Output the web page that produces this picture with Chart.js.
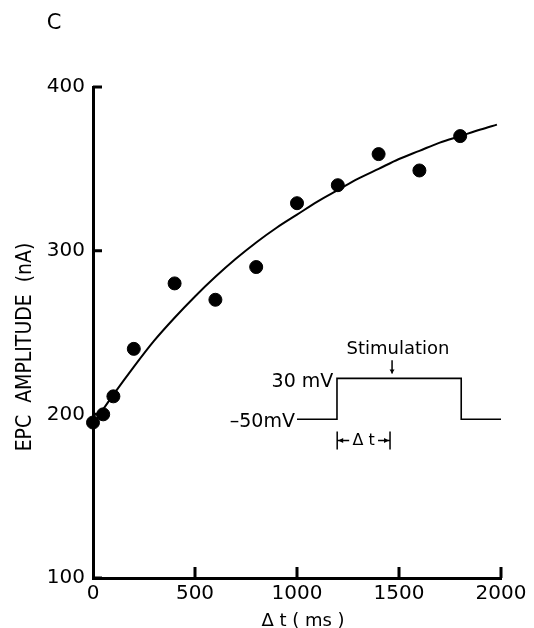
<!DOCTYPE html>
<html>
<head>
<meta charset="utf-8">
<script src="https://cdn.jsdelivr.net/npm/chart.js@4/dist/chart.umd.min.js"></script>
<style>
    body { margin: 0; background: #fff; }
</style>
</head>
<body>
<canvas id="epcChartCanvas" width="534" height="628"></canvas>
<script>
// measured points: delay between step and stimulation (ms) vs EPC amplitude (nA)
const delayMs = [0, 50, 100, 200, 400, 600, 800, 1000, 1200, 1400, 1600, 1800];
const epcAmplitude = [195, 200, 211, 240, 280, 270, 290, 329, 340, 359, 349, 370];

// smooth fitted curve
const fitX = [0, 100, 200, 300, 400, 500, 600, 700, 800, 900, 1000, 1100, 1200, 1300, 1400, 1500, 1600, 1700, 1800, 1900, 1980];
const fitY = [194, 212, 229, 245, 259, 272, 284, 295, 305, 314, 322, 330, 337, 344, 350, 356, 361, 366, 370, 374, 377];

// inset: voltage step protocol (drawn in plot units)
const pulseX = [1000, 1196, 1196, 1805, 1805, 2000];
const pulseY = [197, 197, 222, 222, 197, 197];

const xTicks = [0, 500, 1000, 1500, 2000];
const yTicks = [100, 200, 300, 400];

const FONT = '"DejaVu Sans", sans-serif';

function toPoints(xs, ys) {
    let pts = [];
    for (let i = 0; i < xs.length; i++) {
        pts.push({ x: xs[i], y: ys[i] });
    }
    return pts;
}

// inward tick marks, titles and the inset labels
const decorations = {
    id: 'decorations',
    afterDraw(chart) {
        const ctx = chart.ctx;
        const xs = chart.scales.x;
        const ys = chart.scales.y;
        const area = chart.chartArea;
        ctx.save();
        ctx.strokeStyle = '#000';
        ctx.fillStyle = '#000';

        // tick marks pointing into the plot
        ctx.lineWidth = 3;
        ctx.beginPath();
        yTicks.forEach(v => {
            const py = ys.getPixelForValue(v);
            ctx.moveTo(area.left, py);
            ctx.lineTo(area.left + 9, py);
        });
        xTicks.forEach(v => {
            if (v === 0) return;
            const px = xs.getPixelForValue(v);
            ctx.moveTo(px, area.bottom);
            ctx.lineTo(px, area.bottom - 11);
        });
        ctx.stroke();

        // panel letter
        ctx.textAlign = 'center';
        ctx.textBaseline = 'middle';
        ctx.font = '21px ' + FONT;
        ctx.fillText('C', 54, 24);

        // axis titles
        ctx.font = '18px ' + FONT;
        ctx.fillText('\u0394 t ( ms )', 303, 621);
        ctx.save();
        ctx.translate(26, 347);
        ctx.rotate(-Math.PI / 2);
        ctx.font = '21px "DejaVu Sans Condensed", ' + FONT;
        ctx.fillText('EPC  AMPLITUDE  (nA)', 0, 0);
        ctx.restore();

        // inset labels
        ctx.font = '18px ' + FONT;
        ctx.fillText('Stimulation', xs.getPixelForValue(1495), ys.getPixelForValue(239.5));
        ctx.textAlign = 'right';
        ctx.font = '19px ' + FONT;
        ctx.fillText('30 mV', xs.getPixelForValue(1178), ys.getPixelForValue(220));
        ctx.fillText('\u201350mV', xs.getPixelForValue(990), ys.getPixelForValue(195.5));

        // stimulation arrow
        ctx.lineWidth = 1.5;
        const ax = xs.getPixelForValue(1466);
        const ay1 = ys.getPixelForValue(233);
        const ay2 = ys.getPixelForValue(225);
        ctx.beginPath();
        ctx.moveTo(ax, ay1);
        ctx.lineTo(ax, ay2);
        ctx.stroke();
        ctx.beginPath();
        ctx.moveTo(ax - 2.5, ay2 - 4);
        ctx.lineTo(ax + 2.5, ay2 - 4);
        ctx.lineTo(ax, ay2);
        ctx.closePath();
        ctx.fill();

        // delta t bracket
        const bx1 = xs.getPixelForValue(1197);
        const bx2 = xs.getPixelForValue(1456);
        const by = ys.getPixelForValue(184);
        ctx.beginPath();
        ctx.moveTo(bx1, by - 9);
        ctx.lineTo(bx1, by + 9);
        ctx.moveTo(bx2, by - 9);
        ctx.lineTo(bx2, by + 9);
        ctx.moveTo(bx1, by);
        ctx.lineTo(bx1 + 12, by);
        ctx.moveTo(bx2 - 12, by);
        ctx.lineTo(bx2, by);
        ctx.stroke();
        ctx.beginPath();
        ctx.moveTo(bx1 + 1, by);
        ctx.lineTo(bx1 + 6, by - 2.5);
        ctx.lineTo(bx1 + 6, by + 2.5);
        ctx.closePath();
        ctx.moveTo(bx2 - 1, by);
        ctx.lineTo(bx2 - 6, by - 2.5);
        ctx.lineTo(bx2 - 6, by + 2.5);
        ctx.closePath();
        ctx.fill();
        ctx.textAlign = 'center';
        ctx.font = '16px ' + FONT;
        ctx.fillText('\u0394 t', (bx1 + bx2) / 2, by);

        ctx.restore();
    }
};

const epcChart = new Chart(document.querySelector('#epcChartCanvas'), {
    type: 'scatter',
    data: {
        datasets: [
            {
                label: 'fit',
                type: 'line',
                data: toPoints(fitX, fitY),
                borderColor: '#000',
                borderWidth: 2,
                pointRadius: 0,
                cubicInterpolationMode: 'monotone',
                fill: false,
                clip: false
            },
            {
                label: 'EPC',
                data: toPoints(delayMs, epcAmplitude),
                backgroundColor: '#000',
                borderColor: '#000',
                pointRadius: 6.5,
                pointHoverRadius: 6.5,
                clip: false
            },
            {
                label: 'pulse',
                type: 'line',
                data: toPoints(pulseX, pulseY),
                borderColor: '#000',
                borderWidth: 1.6,
                pointRadius: 0,
                tension: 0,
                fill: false,
                clip: false
            }
        ]
    },
    options: {
        responsive: false,
        animation: false,
        events: [],
        layout: {
            padding: { top: 87, right: 33, bottom: 0, left: 0 }
        },
        plugins: {
            legend: { display: false },
            tooltip: { enabled: false }
        },
        scales: {
            x: {
                type: 'linear',
                min: 0,
                max: 2000,
                afterFit(scale) { scale.height = 50; },
                afterBuildTicks(scale) { scale.ticks = xTicks.map(v => ({ value: v })); },
                grid: { display: false, drawTicks: false },
                border: { display: true, color: '#000', width: 3 },
                ticks: {
                    color: '#000',
                    padding: 4,
                    font: { family: FONT, size: 20 },
                    callback: v => String(v)
                }
            },
            y: {
                min: 100,
                max: 400,
                afterFit(scale) { scale.width = 93; },
                afterBuildTicks(scale) { scale.ticks = yTicks.map(v => ({ value: v })); },
                grid: { display: false, drawTicks: false },
                border: { display: true, color: '#000', width: 3 },
                ticks: {
                    color: '#000',
                    padding: 8,
                    font: { family: FONT, size: 20 },
                    callback: v => String(v)
                }
            }
        }
    },
    plugins: [decorations]
});
</script>
</body>
</html>
